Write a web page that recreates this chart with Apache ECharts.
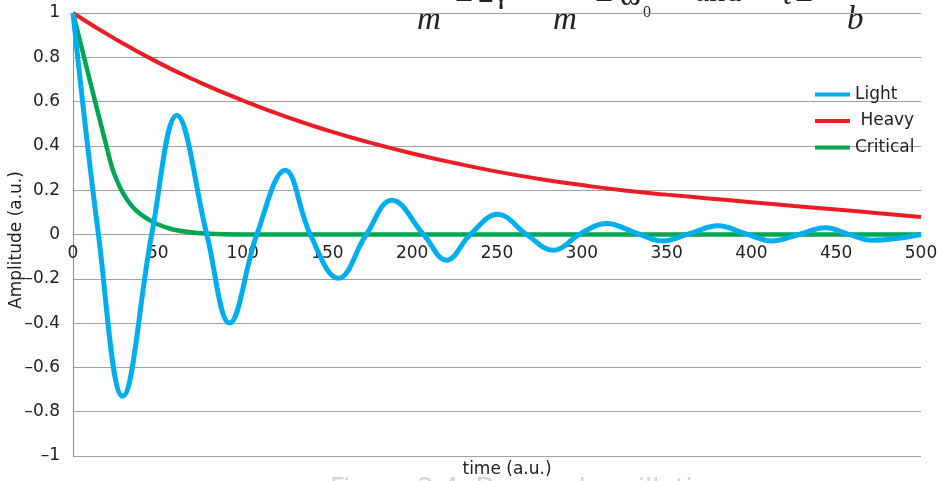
<!DOCTYPE html>
<html>
<head>
<meta charset="utf-8">
<script src="https://cdn.jsdelivr.net/npm/echarts@6/dist/echarts.min.js"></script>
<style>
  html, body { margin: 0; padding: 0; background: #fff; }
  #chart { width: 944px; height: 481px; }
</style>
</head>
<body>
<div id="chart"></div>
<script>
  // time axis ticks and amplitude ticks
  const xTicks = ['0', '50', '100', '150', '200', '250', '300', '350', '400', '450', '500']
  const yTicks = ['–1', '–0.8', '–0.6', '–0.4', '–0.2', '0', '0.2', '0.4', '0.6', '0.8', '1']

  // light damping (underdamped): peaks and zero crossings
  const lightT = [0, 15, 29.3, 46.4, 61.2, 78.9, 92.3, 108.4, 125.1, 139.9, 156.5, 172.9, 188, 206.7, 220.2, 234.3, 250.5, 267.5, 283.2, 299.5, 314.6, 331, 347.5, 364, 380.3, 396, 412.4, 428, 443.8, 457, 471.4, 500]
  const lightV = [1, 0, -0.73, 0, 0.537, 0, -0.4, 0, 0.29, 0, -0.198, 0, 0.155, 0, -0.116, 0, 0.091, 0, -0.071, 0.005, 0.05, 0.01, -0.029, 0.005, 0.039, 0.005, -0.029, 0, 0.03, 0.002, -0.026, 0]

  // heavy damping
  const heavyT = [0, 25, 50, 75, 100, 125, 150, 175, 200, 225, 250, 275, 300, 325, 350, 375, 400, 425, 450, 475, 500]
  const heavyV = [1, 0.882, 0.777, 0.686, 0.605, 0.533, 0.47, 0.415, 0.366, 0.323, 0.284, 0.251, 0.223, 0.199, 0.18, 0.163, 0.146, 0.129, 0.113, 0.096, 0.079]

  // critical damping
  const critT = [0, 22, 25, 30, 37, 47, 57, 67, 80, 100, 150, 200, 250, 300, 350, 400, 450, 500]
  const critV = [1, 0.33, 0.26, 0.18, 0.11, 0.057, 0.027, 0.012, 0.003, 0, 0, 0, 0, 0, 0, 0, 0, 0]

  const pairs = (t, v) => t.map((x, i) => [x, v[i]])

  const chartInstance = echarts.init(document.getElementById('chart'))
  const font = 'DejaVu Sans, Verdana, sans-serif'
  const serif = 'Liberation Serif, Times New Roman, serif'
  const eq = (text, x, y, size, italic) => ({
    type: 'text', x: x, y: y,
    style: { text: text, font: (italic ? 'italic ' : '') + size + 'px ' + serif, fill: '#222', verticalAlign: 'bottom' }
  })

  const option = {
    animation: false,
    backgroundColor: '#fff',
    grid: { left: 73, right: 23, top: 13, bottom: 25, containLabel: false },
    legend: {
      data: ['Light', 'Heavy', 'Critical'],
      orient: 'vertical',
      left: 810,
      top: 81,
      itemGap: 9.5,
      icon: 'rect',
      itemWidth: 35,
      itemHeight: 4,
      formatter: (name) => name === 'Heavy' ? ' Heavy' : name,
      textStyle: { fontFamily: font, fontSize: 17, color: '#222' }
    },
    xAxis: {
      type: 'value',
      min: 0,
      max: 500,
      interval: 50,
      // labels sit on the zero line
      offset: -221.5,
      axisLine: { onZero: false, lineStyle: { color: '#a0a0a0' } },
      axisTick: { show: false },
      splitLine: { show: false },
      axisLabel: {
        margin: 11,
        fontFamily: font,
        fontSize: 17,
        color: '#222',
        formatter: (v) => xTicks[Math.round(v / 50)]
      }
    },
    yAxis: {
      type: 'value',
      min: -1,
      max: 1,
      interval: 0.2,
      axisLine: { show: true, lineStyle: { color: '#8c8c8c' } },
      axisTick: { show: false },
      splitLine: { lineStyle: { color: '#a0a0a0', width: 1 } },
      axisLabel: {
        margin: 13,
        fontFamily: font,
        fontSize: 17,
        color: '#222',
        formatter: (v) => yTicks[Math.round((v + 1) / 0.2)]
      }
    },
    graphic: [
      { type: 'text', x: 507, y: 470,
        style: { text: 'time (a.u.)', font: '17px ' + font, fill: '#222', align: 'center', verticalAlign: 'middle' } },
      { type: 'text', x: 17, y: 240, rotation: Math.PI / 2,
        style: { text: 'Amplitude (a.u.)', font: '17px ' + font, fill: '#222', align: 'center', verticalAlign: 'middle' } },
      // clipped equation strip along the top edge
      eq('m', 417, 37, 33, true),
      eq('=', 455, 16, 32, false),
      eq('2γ', 478, 10, 32, false),
      eq('m', 553, 37, 33, true),
      eq('=', 595, 16, 32, false),
      eq('ω', 620, 13, 32, false),
      eq('0', 643, 20.5, 16, false),
      eq('and', 695, 9, 32, false),
      eq('t', 783, 12, 32, true),
      eq('=', 795, 16, 32, false),
      eq('b', 847, 37, 33, true),
      // clipped caption along the bottom edge
      { type: 'text', x: 330, y: 477, style: { text: 'Figure 2.4  Damped oscillations', font: '26px ' + font, fill: '#d4d4d4', verticalAlign: 'top' } }
    ],
    series: [
      {
        name: 'Heavy',
        type: 'line',
        data: pairs(heavyT, heavyV),
        showSymbol: false,
        smooth: true,
        lineStyle: { color: '#ec1c24', width: 4 },
        itemStyle: { color: '#ec1c24' }
      },
      {
        name: 'Critical',
        type: 'line',
        data: pairs(critT, critV),
        showSymbol: false,
        smooth: 0.3,
        lineStyle: { color: '#00a651', width: 4.5 },
        itemStyle: { color: '#00a651' }
      },
      {
        name: 'Light',
        type: 'line',
        data: pairs(lightT, lightV),
        showSymbol: false,
        smooth: 0.4,
        lineStyle: { color: '#00aeef', width: 5 },
        itemStyle: { color: '#00aeef' }
      }
    ]
  }
  chartInstance.setOption(option)
</script>
</body>
</html>
